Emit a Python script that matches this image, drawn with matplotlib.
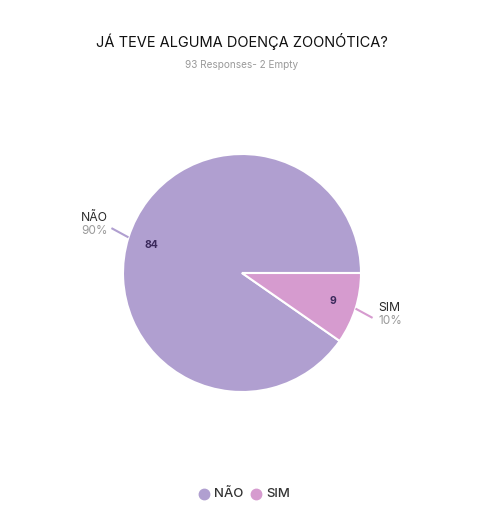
import numpy as np
import matplotlib.pyplot as plt

title = "JÁ TEVE ALGUMA DOENÇA ZOONÓTICA?"
subtitle = "93 Responses- 2 Empty"
labels = ["NÃO", "SIM"]
counts = [84, 9]
percents = ["90%", "10%"]
colors = ["#b09fd0", "#d69bcf"]

plt.rcParams['font.family'] = ['Inter', 'DejaVu Sans']

W, H = 484, 528
fig = plt.figure(figsize=(W / 100, H / 100), dpi=100)
fig.patch.set_facecolor("white")

# pie axes placed in pixel units: centre (242, 273), radius 119
cx, cy, r = 242, 273, 119
ax = fig.add_axes([(cx - r) / W, (H - cy - r) / H, 2 * r / W, 2 * r / H])
wedges, _ = ax.pie(counts, colors=colors, startangle=0, counterclock=True,
                   radius=1, wedgeprops=dict(edgecolor="white", linewidth=1.5))
ax.set_xlim(-1, 1)
ax.set_ylim(-1, 1)
ax.set_aspect("equal")
ax.axis("off")

for w, lab, n, pct, col in zip(wedges, labels, counts, percents, colors):
    ang = np.deg2rad((w.theta1 + w.theta2) / 2)
    c, s = np.cos(ang), np.sin(ang)
    ax.text(0.8 * c, 0.8 * s, str(n), ha="center", va="center",
            fontsize=7.5, fontweight="bold", color="#3b2a5c")
    ex, ey = 1.15 * c, 1.26 * s
    ax.plot([c, ex], [s, ey], color=col, lw=1.5, clip_on=False,
            solid_capstyle="butt")
    ha = "left" if c > 0 else "right"
    tx = ex + (0.05 if c > 0 else -0.03)
    ax.text(tx, ey + 0.085, lab, ha=ha, va="center", fontsize=8.8,
            color="#2a2a2a", clip_on=False)
    ax.text(tx, ey - 0.025, pct, ha=ha, va="center", fontsize=8.5,
            color="#9a9a9a", clip_on=False)

fig.text(0.5, 1 - 42 / H, title, ha="center", va="center", fontsize=10.5,
         color="#111111")
fig.text(0.5, 1 - 65 / H, subtitle, ha="center", va="center", fontsize=7.2,
         color="#9a9a9a")

# legend
for x, lab, col in zip([204, 256], labels, colors):
    fig.lines.append(plt.Line2D([x / W], [1 - 494 / H], marker="o",
                                markersize=7.5, color=col, linestyle="none",
                                transform=fig.transFigure))
    fig.text((x + 10) / W, 1 - 494 / H, lab, ha="left", va="center",
             fontsize=9.5, fontweight="medium", color="#333333")

fig.savefig("out.png", dpi=100)
